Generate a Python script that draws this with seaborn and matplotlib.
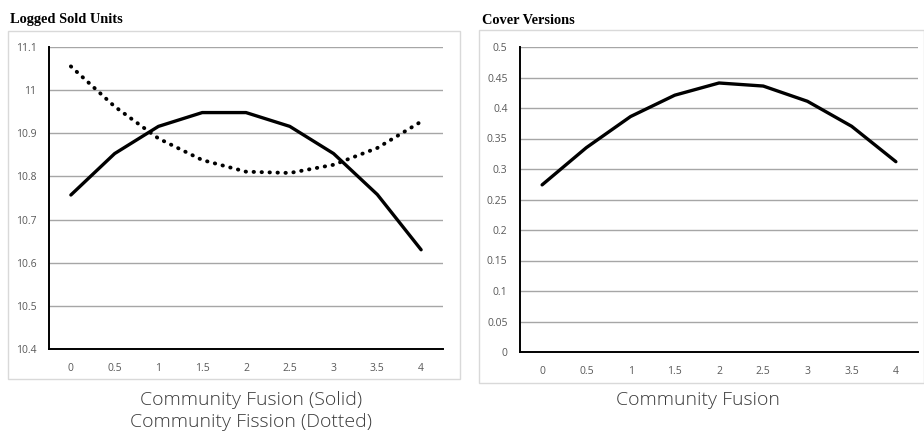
import matplotlib
matplotlib.use("Agg")
import matplotlib.pyplot as plt
import pandas as pd
import seaborn as sns
from matplotlib.patches import Rectangle

# data
fusion_levels = [0, 0.5, 1, 1.5, 2, 2.5, 3, 3.5, 4]
tick_labels = ["0", "0.5", "1", "1.5", "2", "2.5", "3", "3.5", "4"]
sold_fusion = [10.757, 10.853, 10.916, 10.948, 10.948, 10.916, 10.853, 10.758, 10.630]
sold_fission = [11.055, 10.962, 10.888, 10.838, 10.811, 10.808, 10.827, 10.866, 10.927]
cover_fusion = [0.274, 0.335, 0.386, 0.421, 0.441, 0.436, 0.411, 0.370, 0.312]

left_yticks = [10.4, 10.5, 10.6, 10.7, 10.8, 10.9, 11, 11.1]
left_ylabels = ["10.4", "10.5", "10.6", "10.7", "10.8", "10.9", "11", "11.1"]
right_yticks = [0, 0.05, 0.1, 0.15, 0.2, 0.25, 0.3, 0.35, 0.4, 0.45, 0.5]
right_ylabels = ["0", "0.05", "0.1", "0.15", "0.2", "0.25", "0.3", "0.35", "0.4", "0.45", "0.5"]

sns.set_theme(style="white")
plt.rcParams['font.family'] = ['Open Sans', 'DejaVu Sans']

W, H = 924, 434
fig = plt.figure(figsize=(W / 100, H / 100), dpi=100)


def px_axes(x0, y0, x1, y1):
    return fig.add_axes([x0 / W, 1 - y1 / H, (x1 - x0) / W, (y1 - y0) / H])


def style_axes(ax, yticks, ylabels, ylim):
    ax.set_xlim(-0.25, 4.25)
    ax.set_ylim(*ylim)
    ax.set_xticks(fusion_levels)
    ax.set_xticklabels(tick_labels)
    ax.set_yticks(yticks)
    ax.set_yticklabels(ylabels)
    ax.tick_params(axis="both", length=0, labelsize=7.5, colors="#595959")
    ax.tick_params(axis="x", pad=10)
    ax.tick_params(axis="y", pad=9)
    ax.grid(axis="y", color="#a6a6a6", linewidth=1.0)
    ax.set_axisbelow(True)
    for s in ["top", "right"]:
        ax.spines[s].set_visible(False)
    for s in ["left", "bottom"]:
        ax.spines[s].set_color("black")
        ax.spines[s].set_linewidth(1.4)
    ax.set_xlabel("")
    ax.set_ylabel("")


# chart borders
fig.patches.append(Rectangle((8 / W, 1 - 379 / H), 452 / W, 348 / H, transform=fig.transFigure,
                             fill=False, edgecolor="#d9d9d9", linewidth=1.0))
fig.patches.append(Rectangle((479 / W, 1 - 383 / H), 445 / W, 353 / H, transform=fig.transFigure,
                             fill=False, edgecolor="#d9d9d9", linewidth=1.0))

# left chart: logged sold units
df_left = pd.DataFrame({"x": fusion_levels, "fusion": sold_fusion, "fission": sold_fission})
ax1 = px_axes(49, 47, 443, 349)
sns.lineplot(data=df_left, x="x", y="fusion", ax=ax1, color="black", linewidth=2.4)
sns.lineplot(data=df_left, x="x", y="fission", ax=ax1, color="black", linewidth=2.8,
             linestyle=(0, (0.1, 1.95)), dash_capstyle="round")
style_axes(ax1, left_yticks, left_ylabels, (10.4, 11.1))

# right chart: cover versions
df_right = pd.DataFrame({"x": fusion_levels, "cover": cover_fusion})
ax2 = px_axes(520, 47, 918, 352)
sns.lineplot(data=df_right, x="x", y="cover", ax=ax2, color="black", linewidth=2.4)
style_axes(ax2, right_yticks, right_ylabels, (0, 0.5))

# titles
fig.text(10 / W, 1 - 20 / H, "Logged Sold Units", family="Liberation Serif", weight="bold",
         fontsize=10.4, color="black", va="center", ha="left")
fig.text(482 / W, 1 - 21 / H, "Cover Versions", family="Liberation Serif", weight="bold",
         fontsize=10.4, color="black", va="center", ha="left")

# axis titles below the charts
fig.text(251 / W, 1 - 400 / H, "Community Fusion (Solid)", fontsize=14, color="#3a3a3a",
         ha="center", va="center", weight="light")
fig.text(251 / W, 1 - 422 / H, "Community Fission (Dotted)", fontsize=14, color="#3a3a3a",
         ha="center", va="center", weight="light")
fig.text(698 / W, 1 - 400 / H, "Community Fusion", fontsize=14, color="#3a3a3a",
         ha="center", va="center", weight="light")

fig.savefig("out.png", dpi=100)
